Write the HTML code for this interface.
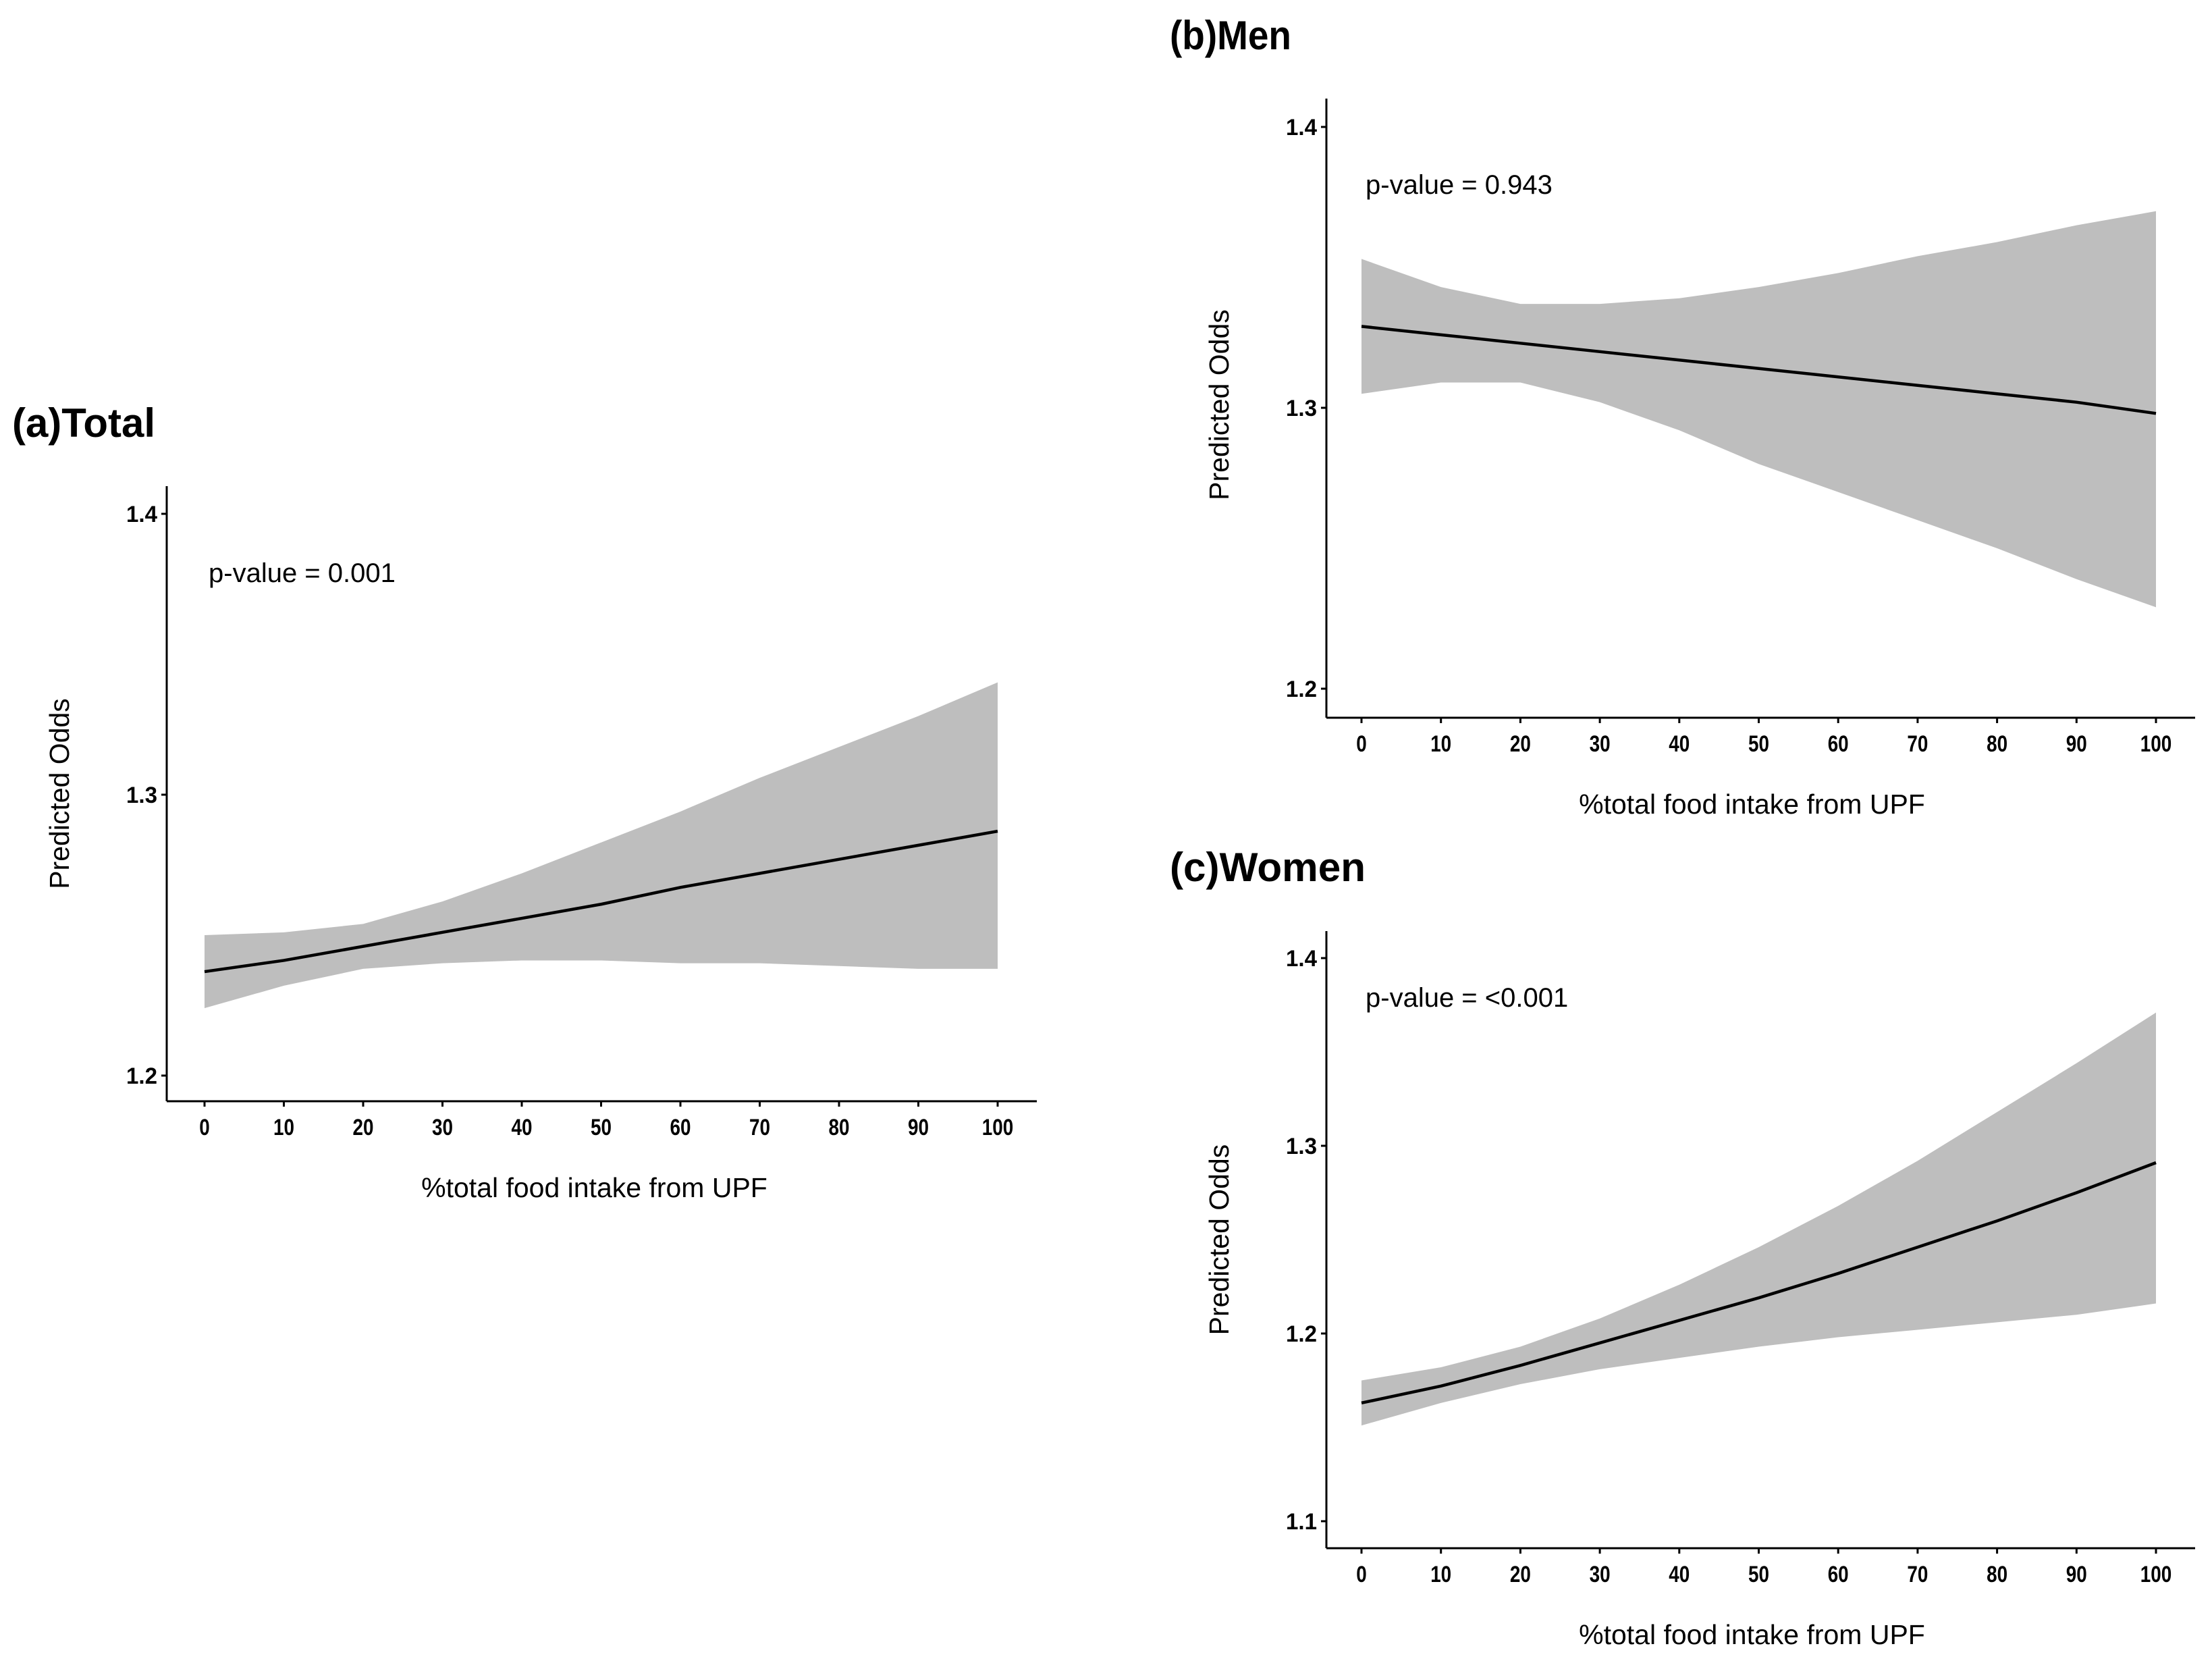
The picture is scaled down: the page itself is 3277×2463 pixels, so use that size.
<!DOCTYPE html>
<html><head><meta charset="utf-8"><style>
html,body{margin:0;padding:0;background:#fff}
svg{display:block}
text{font-family:"Liberation Sans",sans-serif;fill:#000}
</style></head><body>
<svg id="fig" width="3277" height="2463" viewBox="0 0 3277 2463" xmlns="http://www.w3.org/2000/svg"></svg>
<script>
const xTicks = [0,10,20,30,40,50,60,70,80,90,100];
const xValues = [0,10,20,30,40,50,60,70,80,90,100];
// (a) Total
const totalFit   = [1.237,1.241,1.246,1.251,1.256,1.261,1.267,1.272,1.277,1.282,1.287];
const totalUpper = [1.250,1.251,1.254,1.262,1.272,1.283,1.294,1.306,1.317,1.328,1.340];
const totalLower = [1.224,1.232,1.238,1.240,1.241,1.241,1.240,1.240,1.239,1.238,1.238];
const totalYTicks = [1.2,1.3,1.4];
// (b) Men
const menFit   = [1.329,1.326,1.323,1.320,1.317,1.314,1.311,1.308,1.305,1.302,1.298];
const menUpper = [1.353,1.343,1.337,1.337,1.339,1.343,1.348,1.354,1.359,1.365,1.370];
const menLower = [1.305,1.309,1.309,1.302,1.292,1.280,1.270,1.260,1.250,1.239,1.229];
const menYTicks = [1.2,1.3,1.4];
// (c) Women
const womenFit   = [1.163,1.172,1.183,1.195,1.207,1.219,1.232,1.246,1.260,1.275,1.291];
const womenUpper = [1.175,1.182,1.193,1.208,1.226,1.246,1.268,1.292,1.318,1.344,1.371];
const womenLower = [1.151,1.163,1.173,1.181,1.187,1.193,1.198,1.202,1.206,1.210,1.216];
const womenYTicks = [1.1,1.2,1.3,1.4];

const NS = "http://www.w3.org/2000/svg";
const svg = document.getElementById('fig');
function mk(tag, attrs, parent, txt){
  const e = document.createElementNS(NS, tag);
  for (const k in attrs) e.setAttribute(k, attrs[k]);
  if (txt !== undefined) e.textContent = txt;
  (parent||svg).appendChild(e);
  return e;
}
function panel(cfg){
  const g = mk('g', {});
  
  
  const xs = v => cfg.x0 + (v - 0) / 100 * (cfg.x100 - cfg.x0);
  const ys = v => cfg.yA + (v - cfg.vA) / (cfg.vB - cfg.vA) * (cfg.yB - cfg.yA);
  const t = mk('text', {x: cfg.tx, y: cfg.ty, 'font-size': 60, 'font-weight': 'bold', textLength: cfg.tl, lengthAdjust: 'spacingAndGlyphs'}, g, cfg.title);
  
  
  let d = '';
  xValues.forEach((x,i)=>{ d += (i? 'L':'M') + xs(x) + ' ' + ys(cfg.up[i]) + ' '; });
  for (let i = xValues.length-1; i>=0; i--) d += 'L' + xs(xValues[i]) + ' ' + ys(cfg.lo[i]) + ' ';
  const band = mk('path', {d: d + 'Z', fill: '#bebebe'}, g);
  
  
  let ld = '';
  xValues.forEach((x,i)=>{ ld += (i? 'L':'M') + xs(x) + ' ' + ys(cfg.fit[i]) + ' '; });
  const line = mk('path', {d: ld, fill: 'none', stroke: '#000', 'stroke-width': 4.5}, g);
  
  
  const ya = mk('line', {x1: cfg.ax, y1: cfg.top, x2: cfg.ax, y2: cfg.bottom, stroke: '#000', 'stroke-width': 3}, g);
  
  
  const xa = mk('line', {x1: cfg.ax, y1: cfg.bottom, x2: cfg.right, y2: cfg.bottom, stroke: '#000', 'stroke-width': 3}, g);
  
  
  cfg.yt.forEach(v=>{
    const y = ys(v);
    mk('line', {x1: cfg.ax-8, y1: y, x2: cfg.ax, y2: y, stroke: '#000', 'stroke-width': 3}, g);
    const lb = mk('text', {x: cfg.ax-14, y: y+12, 'font-size': 34, 'font-weight': 'bold', 'text-anchor': 'end', textLength: 46, lengthAdjust: 'spacingAndGlyphs'}, g, v.toFixed(1));
    
    
  });
  xTicks.forEach(v=>{
    const x = xs(v);
    mk('line', {x1: x, y1: cfg.bottom, x2: x, y2: cfg.bottom+8, stroke: '#000', 'stroke-width': 3}, g);
    const lb = mk('text', {x: x, y: cfg.bottom+50, 'font-size': 34, 'font-weight': 'bold', 'text-anchor': 'middle', textLength: String(v).length*15.5, lengthAdjust: 'spacingAndGlyphs'}, g, String(v));
    
    
  });
  const xt = mk('text', {x: (cfg.x0+cfg.x100)/2 - 10, y: cfg.bottom+142, 'font-size': 41, 'text-anchor': 'middle'}, g, '%total food intake from UPF');
  
  
  const cy = (cfg.top + cfg.bottom)/2 + cfg.yOff;
  const yt = mk('text', {x: cfg.ax-145, y: cy, 'font-size': 41, 'text-anchor': 'middle', transform: 'rotate(-90 '+(cfg.ax-145)+' '+cy+')'}, g, 'Predicted Odds');
  
  
  const pv = mk('text', {x: cfg.x0 + 6, y: cfg.py, 'font-size': 40}, g, cfg.p);
  
  
}
panel({key:'total', title:'(a)Total', tx:18, ty:647, tl:212,
  x0:303, x100:1478, vA:1.2, yA:1593, vB:1.4, yB:761,
  ax:247, top:720, bottom:1631, right:1536, yOff:0,
  fit:totalFit, up:totalUpper, lo:totalLower, yt:totalYTicks, p:'p-value = 0.001', py:862});
panel({key:'men', title:'(b)Men', tx:1733, ty:73, tl:180,
  x0:2017, x100:3194, vA:1.2, yA:1020, vB:1.4, yB:188,
  ax:1965, top:146, bottom:1063, right:3252, yOff:-5,
  fit:menFit, up:menUpper, lo:menLower, yt:menYTicks, p:'p-value = 0.943', py:287});
panel({key:'women', title:'(c)Women', tx:1733, ty:1305, tl:290,
  x0:2017, x100:3194, vA:1.1, yA:2253, vB:1.4, yB:1419,
  ax:1965, top:1379, bottom:2293, right:3252, yOff:0,
  fit:womenFit, up:womenUpper, lo:womenLower, yt:womenYTicks, p:'p-value = <0.001', py:1491});
</script>
</body></html>
